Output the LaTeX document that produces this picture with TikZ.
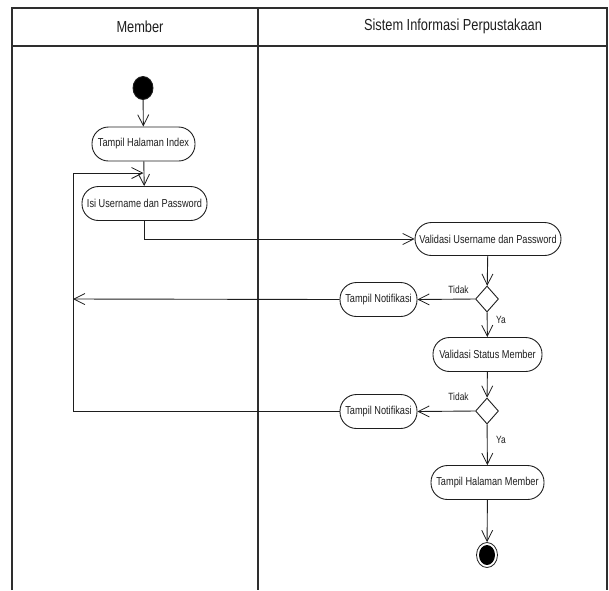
\documentclass[tikz,border=0pt]{standalone}
\usepackage{fontspec}
\setmainfont[FakeStretch=0.8]{Liberation Sans}
\usetikzlibrary{arrows.meta,shapes.geometric}
\definecolor{ink}{HTML}{1E1E1E}
\definecolor{frame}{HTML}{2E2E2E}
\begin{document}
\begin{tikzpicture}[x=1pt,y=-1pt,
  font=\fontsize{11.5}{13}\selectfont,
  text=ink,
  every path/.style={line width=0.9pt},
  act/.style={draw=ink, rectangle, rounded corners=16.5pt, minimum height=34pt,
    inner sep=0pt, align=center},
  decision/.style={draw=ink, diamond, minimum width=23pt, minimum height=26pt,
    inner sep=0pt, aspect=0.9},
  flow/.style={draw=ink, -{Straight Barb[length=11pt,width=11pt,line width=0.8pt]}},
  lane/.style={draw=frame, line width=1.1pt},
  guard/.style={font=\fontsize{10.5}{12}\selectfont}]
\useasboundingbox (0,0) rectangle (609,590);

% swimlane frame
\draw[lane] (12,590) -- (12,8) -- (607,8) -- (607,590);
\draw[lane] (12,46) -- (607,46);
\draw[lane] (258,8) -- (258,590);
\node[font=\fontsize{16}{18}\selectfont] (laneA) at (140,27) {Member};
\node[font=\fontsize{16}{18}\selectfont] (laneB) at (453,26) {Sistem Informasi Perpustakaan};

% start and end
\node[draw=ink, fill=black, ellipse, minimum width=20pt, minimum height=23pt, inner sep=0pt] (start) at (143,88) {};
\node[draw=ink, ellipse, minimum width=21pt, minimum height=25pt, inner sep=0pt, line width=0.8pt] (finish) at (487,555) {};
\node[fill=black, ellipse, minimum width=16pt, minimum height=20pt, inner sep=0pt] (finishcore) at (487,555) {};

% activities
\node[act, minimum width=103pt] (index) at (143.5,144) {Tampil Halaman Index};
\node[act, minimum width=125pt] (isi) at (144.5,203.5) {Isi Username dan Password};
\node[act, minimum width=146pt, minimum height=33pt] (valid) at (488,239) {Validasi Username dan Password};
\node[decision] (d1) at (487,299) {};
\node[act, minimum width=77pt] (notif1) at (378.5,299.5) {Tampil Notifikasi};
\node[act, minimum width=109pt] (status) at (487.5,354.5) {Validasi Status Member};
\node[decision] (d2) at (487,411) {};
\node[act, minimum width=77pt] (notif2) at (378.5,411.5) {Tampil Notifikasi};
\node[act, minimum width=113pt] (home) at (487.5,482.5) {Tampil Halaman Member};

% loop-back points on the left edge of the Member lane
\coordinate (back1) at (73,299);
\coordinate (merge) at (143.5,173);

% control flow
\draw[flow] (start) -- (index);
\draw[flow] (index) -- (isi);
\draw[flow] (isi.south) |- (valid.west);
\draw[flow] (valid) -- (d1);
\draw[flow] (d1.west) -- (notif1.east);
\draw[flow] (notif1.west) -- (back1);
\draw[flow] (d1) -- (status);
\draw[flow] (status) -- (d2);
\draw[flow] (d2.west) -- (notif2.east);
\draw[flow] (notif2.west) -- (73,411.5) |- (merge);
\draw[flow] (d2) -- (home);
\draw[flow] (home) -- (finish);

% guards
\node[guard] (g1) at (458.5,290) {Tidak};
\node[guard] (g2) at (501,320) {Ya};
\node[guard] (g3) at (458.5,396.5) {Tidak};
\node[guard] (g4) at (501,440) {Ya};
\end{tikzpicture}
\end{document}
